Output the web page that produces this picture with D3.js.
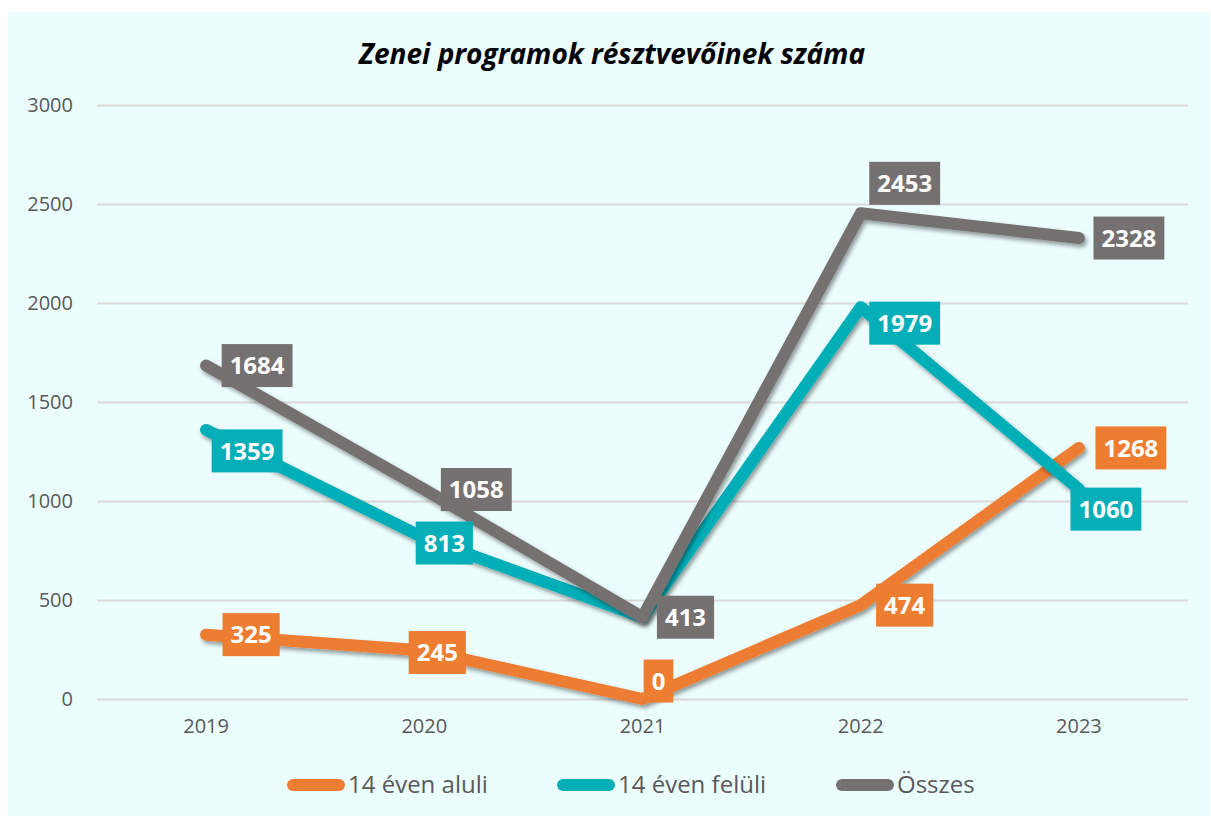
<!DOCTYPE html>
<html>
<head>
<meta charset="utf-8">
<script src="https://cdn.jsdelivr.net/npm/d3@7"></script>
<style>
  body { margin: 0; background: #fff; }
  text { font-family: "Open Sans", "Noto Sans", sans-serif; }
</style>
</head>
<body>
<div id="chart"></div>
<script>
// Adatok
const years = ["2019", "2020", "2021", "2022", "2023"];
const under14 = [325, 245, 0, 474, 1268];
const over14 = [1359, 813, 413, 1979, 1060];
const total = [1684, 1058, 413, 2453, 2328];
const yTicks = [0, 500, 1000, 1500, 2000, 2500, 3000];
const seriesNames = ["14 éven aluli", "14 éven felüli", "Összes"];
const colors = ["#ED7D31", "#06AEB8", "#767171"];

const W = 1211, H = 816;
const margin = {top: 105, left: 97, right: 23, bottom: 117};

const svg = d3.select("#chart").append("svg")
    .attr("width", W).attr("height", H);

const defs = svg.append("defs");
const f = defs.append("filter").attr("id", "shadow")
    .attr("x", "-10%").attr("y", "-10%").attr("width", "120%").attr("height", "130%");
f.append("feDropShadow").attr("dx", 2).attr("dy", 3).attr("stdDeviation", 2.2)
    .attr("flood-color", "#000").attr("flood-opacity", 0.4);

// háttér
svg.append("rect").attr("x", 8).attr("y", 12).attr("width", 1202).attr("height", 804)
    .attr("fill", "#ECFDFD");

const x = d3.scaleBand().domain(years).range([margin.left, W - margin.right]);
const y = d3.scaleLinear().domain([0, 3000]).range([H - margin.bottom, margin.top]);
const cx = d => x(d) + x.bandwidth() / 2;

// rácsvonalak
svg.append("g")
    .attr("transform", `translate(${margin.left},0)`)
    .call(d3.axisLeft(y).tickValues(yTicks).tickFormat(d3.format("d"))
        .tickSize(-(W - margin.left - margin.right)).tickPadding(24))
    .call(g => g.select(".domain").remove())
    .call(g => g.selectAll(".tick line").attr("stroke", "#D9D9D9").attr("stroke-width", 2))
    .call(g => g.selectAll(".tick text").attr("fill", "#595959").style("font-size", "20px"));

svg.append("g")
    .attr("transform", `translate(0,${H - margin.bottom})`)
    .call(d3.axisBottom(x).tickSize(0).tickPadding(20))
    .call(g => g.select(".domain").remove())
    .call(g => g.selectAll(".tick text").attr("fill", "#595959").style("font-size", "20px"));

// cím
svg.append("text").attr("x", 612).attr("y", 64).attr("text-anchor", "middle")
    .style("font-size", "28px").style("font-weight", "bold").style("font-style", "italic")
    .attr("fill", "#000").text("Zenei programok résztvevőinek száma");

const series = [under14, over14, total];

// vonalak
const line = d3.line().x((d, i) => cx(years[i])).y(d => y(d));
series.forEach((vals, s) => {
    svg.append("path").datum(vals)
        .attr("d", line)
        .attr("fill", "none")
        .attr("stroke", colors[s])
        .attr("stroke-width", 12)
        .attr("stroke-linecap", "round")
        .attr("stroke-linejoin", "round")
        .attr("filter", "url(#shadow)");
});

// címkék eltolása (doboz közepe a ponthoz képest)
const labelShift = [
    [[45, 0], [13, 2], [16, -18], [44, 0], [52, 0]],
    [[41, 21], [20, 5], null, [44, 16], [27, 20]],
    [[51, 0], [52, 0], [43, 0], [44, -30], [50, 0]]
];

series.forEach((vals, s) => {
    vals.forEach((v, i) => {
        const sh = labelShift[s][i];
        if (!sh) return;
        const px = cx(years[i]) + sh[0], py = y(v) + sh[1];
        const g = svg.append("g");
        const t = g.append("text")
            .attr("x", px).attr("y", py).attr("dy", "0.36em")
            .attr("text-anchor", "middle")
            .attr("fill", "#fff")
            .style("font-size", "24px").style("font-weight", "bold")
            .text(v);
        const w = t.node().getComputedTextLength() + 16;
        g.insert("rect", "text")
            .attr("x", px - w / 2).attr("y", py - 21.5)
            .attr("width", w).attr("height", 43)
            .attr("fill", colors[s]);
    });
});

// jelmagyarázat
const legendX = [287, 557, 836];
seriesNames.forEach((name, s) => {
    svg.append("line")
        .attr("x1", legendX[s] + 6).attr("x2", legendX[s] + 52)
        .attr("y1", 785).attr("y2", 785)
        .attr("stroke", colors[s]).attr("stroke-width", 12).attr("stroke-linecap", "round");
    svg.append("text").attr("x", legendX[s] + 61).attr("y", 785).attr("dy", "0.35em")
        .attr("fill", "#595959").style("font-size", "24px").text(name);
});
</script>
</body>
</html>
